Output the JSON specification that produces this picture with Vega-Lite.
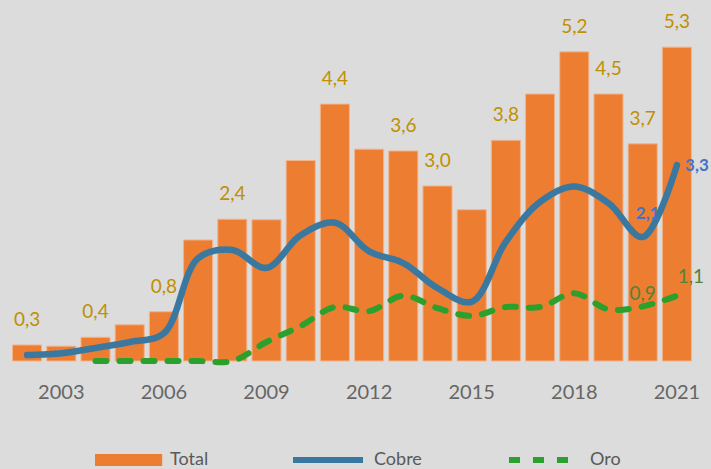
{
  "$schema": "https://vega.github.io/schema/vega-lite/v6.json",
  "width": 684,
  "height": 356,
  "padding": {"left": 10, "top": 5, "right": 17, "bottom": 0},
  "background": "#DCDCDC",
  "config": {"view": {"stroke": null}, "font": "Lato"},
  "data": {
    "values": [
      {"year": 2002, "total": 0.27, "cobre": 0.10, "oro": null, "lab": "0,3", "cobreLab": "", "oroLab": ""},
      {"year": 2003, "total": 0.25, "cobre": 0.13, "oro": null, "lab": "", "cobreLab": "", "oroLab": ""},
      {"year": 2004, "total": 0.40, "cobre": 0.22, "oro": 0, "lab": "0,4", "cobreLab": "", "oroLab": ""},
      {"year": 2005, "total": 0.61, "cobre": 0.32, "oro": 0, "lab": "", "cobreLab": "", "oroLab": ""},
      {"year": 2006, "total": 0.83, "cobre": 0.47, "oro": 0, "lab": "0,8", "cobreLab": "", "oroLab": ""},
      {"year": 2007, "total": 2.04, "cobre": 1.73, "oro": 0, "lab": "", "cobreLab": "", "oroLab": ""},
      {"year": 2008, "total": 2.39, "cobre": 1.87, "oro": 0, "lab": "2,4", "cobreLab": "", "oroLab": ""},
      {"year": 2009, "total": 2.38, "cobre": 1.57, "oro": 0.32, "lab": "", "cobreLab": "", "oroLab": ""},
      {"year": 2010, "total": 3.38, "cobre": 2.12, "oro": 0.59, "lab": "", "cobreLab": "", "oroLab": ""},
      {"year": 2011, "total": 4.33, "cobre": 2.33, "oro": 0.91, "lab": "4,4", "cobreLab": "", "oroLab": ""},
      {"year": 2012, "total": 3.57, "cobre": 1.85, "oro": 0.84, "lab": "", "cobreLab": "", "oroLab": ""},
      {"year": 2013, "total": 3.54, "cobre": 1.65, "oro": 1.10, "lab": "3,6", "cobreLab": "", "oroLab": ""},
      {"year": 2014, "total": 2.95, "cobre": 1.23, "oro": 0.89, "lab": "3,0", "cobreLab": "", "oroLab": ""},
      {"year": 2015, "total": 2.55, "cobre": 1.00, "oro": 0.76, "lab": "", "cobreLab": "", "oroLab": ""},
      {"year": 2016, "total": 3.72, "cobre": 2.01, "oro": 0.91, "lab": "3,8", "cobreLab": "", "oroLab": ""},
      {"year": 2017, "total": 4.50, "cobre": 2.68, "oro": 0.91, "lab": "", "cobreLab": "", "oroLab": ""},
      {"year": 2018, "total": 5.21, "cobre": 2.94, "oro": 1.14, "lab": "5,2", "cobreLab": "", "oroLab": ""},
      {"year": 2019, "total": 4.50, "cobre": 2.66, "oro": 0.87, "lab": "4,5", "cobreLab": "", "oroLab": ""},
      {"year": 2020, "total": 3.66, "cobre": 2.09, "oro": 0.92, "lab": "3,7", "cobreLab": "2,1", "oroLab": "0,9"},
      {"year": 2021, "total": 5.29, "cobre": 3.30, "oro": 1.10, "lab": "5,3", "cobreLab": "3,3", "oroLab": "1,1"}
    ]
  },
  "encoding": {
    "x": {
      "field": "year",
      "type": "ordinal",
      "scale": {"paddingInner": 0.15, "paddingOuter": 0.075},
      "axis": {
        "values": [2003, 2006, 2009, 2012, 2015, 2018, 2021],
        "labelAngle": 0,
        "labelFontSize": 20,
        "labelColor": "#666666",
        "labelPadding": 21,
        "ticks": false,
        "domain": false,
        "title": null
      }
    }
  },
  "layer": [
    {
      "mark": {"type": "bar", "stroke": "#F3B48C", "strokeWidth": 1},
      "encoding": {
        "y": {"field": "total", "type": "quantitative", "scale": {"domain": [0, 6]}, "axis": null},
        "fill": {
          "datum": "Total",
          "scale": {"domain": ["Total"], "range": ["#ED7D31"]},
          "legend": {
            "orient": "none",
            "legendX": 85,
            "legendY": 446,
            "title": null,
            "symbolType": "M-1.5,-1H9.7V1H-1.5Z",
            "symbolSize": 144,
            "symbolStrokeWidth": 0,
            "labelFontSize": 18,
            "labelColor": "#595959",
            "labelOffset": 57
          }
        }
      }
    },
    {
      "mark": {"type": "line", "interpolate": "catmull-rom", "strokeWidth": 6.5, "strokeCap": "round"},
      "encoding": {
        "y": {"field": "cobre", "type": "quantitative"},
        "stroke": {
          "datum": "Cobre",
          "scale": {"domain": ["Cobre", "Oro"], "range": ["#3A78A0", "#2CA02C"]},
          "legend": {
            "orient": "none",
            "legendX": 280,
            "legendY": 446,
            "direction": "horizontal",
            "title": null,
            "symbolType": "M-1,0H10.67",
            "symbolSize": 144,
            "symbolStrokeWidth": 6,
            "labelFontSize": 18,
            "labelColor": "#595959",
            "labelOffset": 66,
            "columnPadding": 75
          }
        },
        "strokeDash": {
          "datum": "Cobre",
          "scale": {"domain": ["Cobre", "Oro"], "range": [[1, 0], [11, 13]]}
        }
      }
    },
    {
      "mark": {"type": "line", "interpolate": "catmull-rom", "strokeWidth": 6, "strokeCap": "round"},
      "encoding": {
        "y": {"field": "oro", "type": "quantitative"},
        "stroke": {"datum": "Oro"},
        "strokeDash": {"datum": "Oro"}
      }
    },
    {
      "transform": [{"filter": "datum.lab !== ''"}],
      "mark": {"type": "text", "dy": -25, "fontSize": 19, "color": "#BF9000"},
      "encoding": {
        "y": {"field": "total", "type": "quantitative"},
        "text": {"field": "lab"}
      }
    },
    {
      "transform": [{"filter": "datum.year === 2020"}],
      "mark": {"type": "text", "dx": 5, "dy": -23, "fontSize": 17, "fontWeight": "bold", "color": "#4472C4"},
      "encoding": {
        "y": {"field": "cobre", "type": "quantitative"},
        "text": {"field": "cobreLab"}
      }
    },
    {
      "transform": [{"filter": "datum.year === 2021"}],
      "mark": {"type": "text", "dx": 20, "dy": 1, "fontSize": 17, "fontWeight": "bold", "color": "#4472C4"},
      "encoding": {
        "y": {"field": "cobre", "type": "quantitative"},
        "text": {"field": "cobreLab"}
      }
    },
    {
      "transform": [{"filter": "datum.year === 2020"}],
      "mark": {"type": "text", "dx": 0, "dy": -12, "fontSize": 19, "color": "#548235"},
      "encoding": {
        "y": {"field": "oro", "type": "quantitative"},
        "text": {"field": "oroLab"}
      }
    },
    {
      "transform": [{"filter": "datum.year === 2021"}],
      "mark": {"type": "text", "dx": 14, "dy": -19, "fontSize": 19, "color": "#548235"},
      "encoding": {
        "y": {"field": "oro", "type": "quantitative"},
        "text": {"field": "oroLab"}
      }
    }
  ]
}
